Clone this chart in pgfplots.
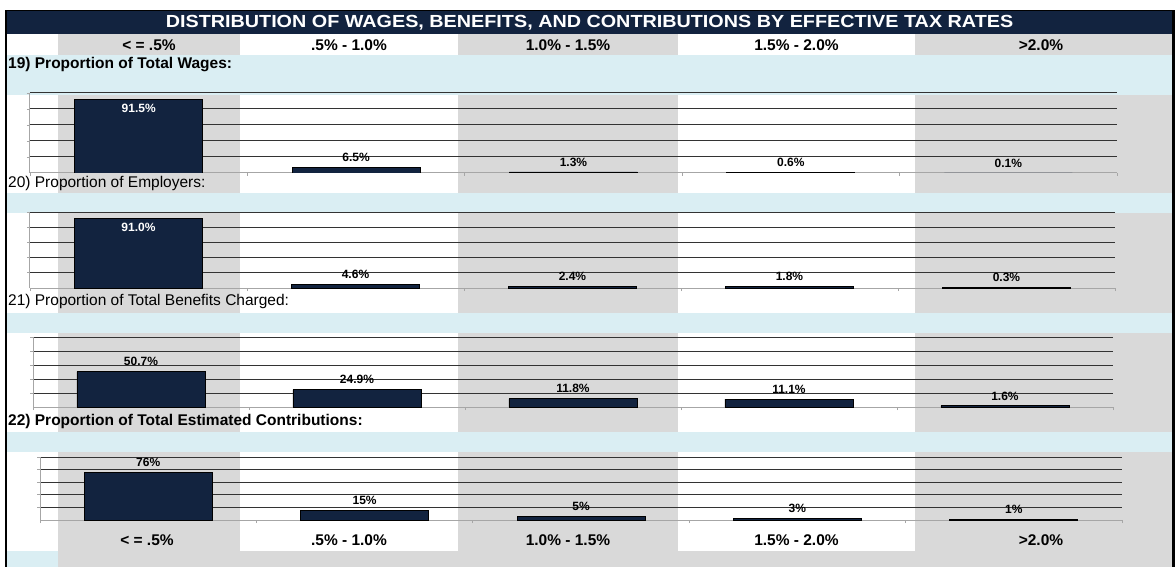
\documentclass[border=0pt]{standalone}
\usepackage{pgfplots}
\pgfplotsset{compat=1.18}
\usepackage{fontspec}
\setmainfont{Liberation Sans}
\definecolor{navy}{HTML}{12233F}
\definecolor{ltblue}{HTML}{DAEEF3}
\definecolor{cellgray}{HTML}{D9D9D9}
\definecolor{gridc}{HTML}{333333}
\definecolor{axisc}{HTML}{A6A6A6}

\newcommand{\titlefont}{\fontsize{17.5}{20}\selectfont\bfseries}
\newcommand{\hdfont}{\fontsize{15.5}{18}\selectfont\bfseries}
\newcommand{\rowfont}{\fontsize{15.5}{18}\selectfont}
\newcommand{\labfont}{\fontsize{12}{14}\selectfont\bfseries}

\pgfplotsset{
  ratechart/.style={
    ybar, anchor=south west, scale only axis,
    xmin=-0.5, xmax=4.5, ymin=0, ymax=100,
    xtick={-0.5,0.5,...,4.5}, xticklabels={},
    ytick={20,40,60,80,100}, yticklabels={},
    ymajorgrids, grid style={gridc, line width=1pt},
    axis x line=bottom, axis y line=left,
    axis line style={axisc, line width=1pt, -},
    tick style={axisc, line width=0.8pt},
    tick align=outside, major tick length=3pt,
    bar width=128pt,
    point meta=explicit symbolic,
    nodes near coords,
    every node near coord/.append style={font=\labfont, inner sep=0pt, anchor=center},
  },
  out lab/.style={fill=navy, draw=black, line width=0.8pt, bar shift=0pt,
    every node near coord/.append style={text=black, yshift=10pt}},
  in lab/.style={fill=navy, draw=black, line width=0.8pt, bar shift=0pt,
    every node near coord/.append style={text=white, yshift=-9pt}},
}

\begin{document}
\begin{tikzpicture}
\begin{scope}[x=1pt,y=-1pt]
\useasboundingbox (0,0) rectangle (1176,567);
\fill[white] (0,0) rectangle (1176,567);
% spreadsheet cells
\foreach \a/\b in {34/55, 95/193, 213/313, 333/432, 452/551}{
  \fill[cellgray] (58,\a) rectangle (240,\b);
  \fill[cellgray] (458,\a) rectangle (678,\b);
  \fill[cellgray] (915,\a) rectangle (1172,\b);
}
\foreach \a/\b in {55/95, 193/213, 313/333, 432/452}{
  \fill[ltblue] (7,\a) rectangle (1172,\b);
}
\fill[ltblue] (7,551) rectangle (58,567);
\fill[cellgray] (58,551) rectangle (1172,567);
\fill[navy] (7,11) rectangle (1172,34);
\fill[black] (5,10) rectangle (7,567);
\fill[black] (1172,10) rectangle (1175,567);
\fill[black] (5,10) rectangle (1175,11);

\node[text=white, font=\titlefont, inner sep=0pt] at (589.5,22.5)
  {\scalebox{1.13}[1]{DISTRIBUTION OF WAGES, BENEFITS, AND CONTRIBUTIONS BY EFFECTIVE TAX RATES}};

\foreach \y/\s in {45/149, 540/147}{
  \node[font=\hdfont, inner sep=0pt] at (\s,\y) {< = .5\%};
  \node[font=\hdfont, inner sep=0pt] at (349,\y) {.5\% - 1.0\%};
  \node[font=\hdfont, inner sep=0pt] at (568,\y) {1.0\% - 1.5\%};
  \node[font=\hdfont, inner sep=0pt] at (796.5,\y) {1.5\% - 2.0\%};
  \node[font=\hdfont, inner sep=0pt] at (1041,\y) {>2.0\%};
}

\node[font=\hdfont, anchor=west, inner sep=0pt] at (8,65) {19) Proportion of Total Wages:};
\node[font=\rowfont, anchor=west, inner sep=0pt] at (8,183) {20) Proportion of Employers:};
\node[font=\rowfont, anchor=west, inner sep=0pt] at (8,301) {21) Proportion of Total Benefits Charged:};
\node[font=\hdfont, anchor=west, inner sep=0pt] at (8,421) {22) Proportion of Total Estimated Contributions:};
\end{scope}

% 19) wages
\begin{axis}[ratechart, at={(30pt,-173pt)}, width=1087pt, height=80pt]
\addplot[in lab] coordinates {(0,91.5) [91.5\%]};
\addplot[out lab] coordinates {(1,6.5) [6.5\%] (2,1.3) [1.3\%] (3,0.6) [0.6\%] (4,0.1) [0.1\%]};
\end{axis}

% 20) employers
\begin{axis}[ratechart, at={(30pt,-288pt)}, width=1085pt, height=76pt]
\addplot[in lab] coordinates {(0,91.0) [91.0\%]};
\addplot[out lab] coordinates {(1,4.6) [4.6\%] (2,2.4) [2.4\%] (3,1.8) [1.8\%] (4,0.3) [0.3\%]};
\end{axis}

% 21) benefits charged
\begin{axis}[ratechart, at={(33pt,-407pt)}, width=1080pt, height=70pt]
\addplot[out lab] coordinates {(0,50.7) [50.7\%] (1,24.9) [24.9\%] (2,11.8) [11.8\%] (3,11.1) [11.1\%] (4,1.6) [1.6\%]};
\end{axis}

% 22) estimated contributions
\begin{axis}[ratechart, at={(40pt,-520pt)}, width=1082pt, height=63pt]
\addplot[out lab] coordinates {(0,76) [76\%] (1,15) [15\%] (2,5) [5\%] (3,3) [3\%] (4,1) [1\%]};
\end{axis}
\end{tikzpicture}
\end{document}
